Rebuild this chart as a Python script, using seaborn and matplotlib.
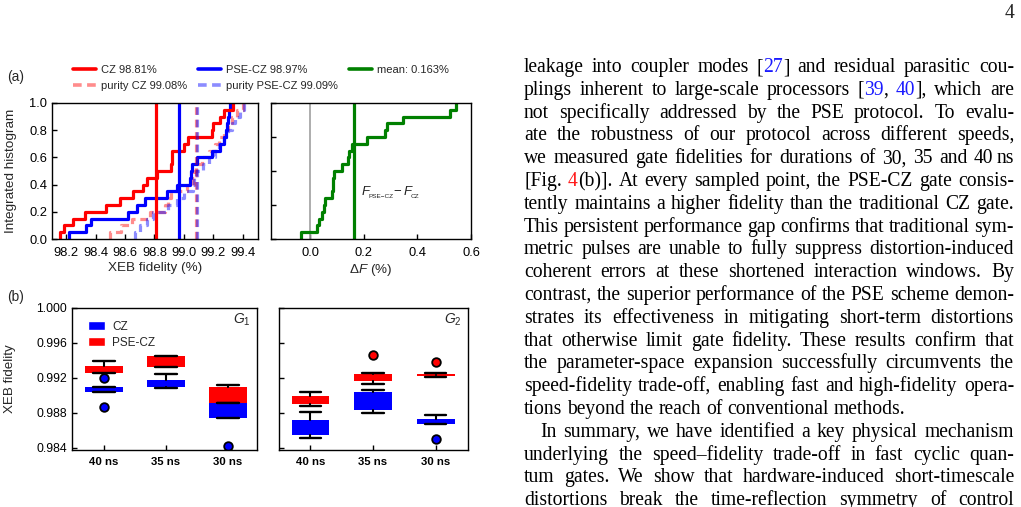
import re
import matplotlib
matplotlib.use('Agg')
import matplotlib.pyplot as plt
import seaborn as sns
from matplotlib.lines import Line2D
from matplotlib.patches import Patch

# ---- panel (a): XEB fidelities (%)
cz_xeb = [98.159, 98.182, 98.245, 98.329, 98.472, 98.567, 98.657, 98.725, 98.748, 98.816,
          98.911, 98.918, 98.922, 99.001, 99.031, 99.194, 99.200, 99.246, 99.273, 99.337]
pse_xeb = [98.216, 98.336, 98.368, 98.623, 98.680, 98.737, 98.884, 98.952, 99.042, 99.050,
           99.055, 99.092, 99.189, 99.246, 99.273, 99.287, 99.291, 99.298, 99.305, 99.314]
purity_cz = [98.50, 98.57, 98.65, 98.77, 98.87, 98.89, 98.91, 99.02, 99.06, 99.07,
             99.08, 99.12, 99.17, 99.21, 99.24, 99.27, 99.30, 99.33, 99.36, 99.40]
purity_pse = [98.67, 98.70, 98.75, 98.79, 98.89, 98.95, 99.00, 99.06, 99.07, 99.08,
              99.13, 99.17, 99.21, 99.24, 99.27, 99.30, 99.33, 99.35, 99.38, 99.41]
delta_f = [-0.035, 0.024, 0.033, 0.043, 0.051, 0.055, 0.080, 0.083, 0.086, 0.088,
           0.117, 0.141, 0.145, 0.157, 0.211, 0.279, 0.286, 0.345, 0.522, 0.543]
mean_cz = 98.81
mean_pse = 98.97
mean_purity_cz = 99.08
mean_purity_pse = 99.09
mean_delta = 0.163

# ---- panel (b): box statistics per gate duration
durations = ['40 ns', '35 ns', '30 ns']
g1_cz_q1 = [0.99035, 0.99090, 0.98737]
g1_cz_q3 = [0.99098, 0.99177, 0.98912]
g1_cz_lo = [0.99035, 0.99083, 0.98737]
g1_cz_hi = [0.99100, 0.99238, 0.98912]
g1_cz_out = [[0.99200, 0.98862], [], [0.98418]]
g1_pse_q1 = [0.99260, 0.99329, 0.98912]
g1_pse_q3 = [0.99337, 0.99454, 0.99098]
g1_pse_lo = [0.99253, 0.99322, 0.98912]
g1_pse_hi = [0.99397, 0.99450, 0.99120]
g1_pse_out = [[], [], []]
g2_cz_q1 = [0.98543, 0.98836, 0.98668]
g2_cz_q3 = [0.98711, 0.99041, 0.98733]
g2_cz_lo = [0.98509, 0.98798, 0.98668]
g2_cz_hi = [0.98810, 0.99063, 0.98779]
g2_cz_out = [[], [], [0.98502]]
g2_pse_q1 = [0.98896, 0.99166, 0.99226]
g2_pse_q3 = [0.98995, 0.99246, 0.99249]
g2_pse_lo = [0.98873, 0.99128, 0.99208]
g2_pse_hi = [0.99037, 0.99253, 0.99253]
g2_pse_out = [[], [0.99460], [0.99382]]

# ---- body text next to the figure
body_lines = [
    "leakage into coupler modes [{b:27}] and residual parasitic cou-",
    "plings inherent to large-scale processors [{b:39}, {b:40}], which are",
    "not specifically addressed by the PSE protocol.  To evalu-",
    "ate the robustness of our protocol across different speeds,",
    "we measured gate fidelities for durations of 30, 35 and 40~ns",
    "[Fig. {r:4}(b)].  At every sampled point, the PSE-CZ gate consis-",
    "tently maintains a higher fidelity than the traditional CZ gate.",
    "This persistent performance gap confirms that traditional sym-",
    "metric pulses are unable to fully suppress distortion-induced",
    "coherent errors at these shortened interaction windows.  By",
    "contrast, the superior performance of the PSE scheme demon-",
    "strates its effectiveness in mitigating short-term distortions",
    "that otherwise limit gate fidelity.  These results confirm that",
    "the parameter-space expansion successfully circumvents the",
    "speed-fidelity trade-off, enabling fast and high-fidelity opera-",
    "tions beyond the reach of conventional methods.",
    "In summary, we have identified a key physical mechanism",
    "underlying the speed\u2013fidelity trade-off in fast cyclic quan-",
    "tum gates.  We show that hardware-induced short-timescale",
    "distortions break the time-reflection symmetry of control",
]
last_in_paragraph = [15]
indented = [16]

RED = '#ff0000'
BLUE = '#0000ff'
GREEN = '#008000'

sns.set_theme(style='ticks')
plt.rcParams['font.family'] = ['Liberation Sans', 'DejaVu Sans']
plt.rcParams['mathtext.fontset'] = 'custom'
plt.rcParams['mathtext.rm'] = 'Liberation Sans'
plt.rcParams['mathtext.it'] = 'Liberation Sans:italic'
plt.rcParams['axes.edgecolor'] = 'black'
plt.rcParams['axes.linewidth'] = 1.0
plt.rcParams['xtick.direction'] = 'in'
plt.rcParams['ytick.direction'] = 'in'
plt.rcParams['xtick.color'] = 'black'
plt.rcParams['ytick.color'] = 'black'
plt.rcParams['xtick.major.size'] = 3.5
plt.rcParams['ytick.major.size'] = 3.5

W, H = 1021, 507
fig = plt.figure(figsize=(W / 100, H / 100), dpi=100)


def px_axes(x0, y0, x1, y1):
    return fig.add_axes([x0 / W, 1 - y1 / H, (x1 - x0) / W, (y1 - y0) / H])


def style_ticks(ax, size=9.3):
    ax.tick_params(axis='x', labelsize=size, pad=6, width=1)
    ax.tick_params(axis='y', labelsize=size, pad=3.5, width=1)


dash = (0, (2.4, 1.5))
LW = 2.3

# ---- (a) left: integrated histograms
ax1 = px_axes(52, 103, 258, 239)
sns.ecdfplot(x=purity_cz, ax=ax1, color=RED, alpha=0.45, lw=LW, ls=dash)
sns.ecdfplot(x=purity_pse, ax=ax1, color=BLUE, alpha=0.45, lw=LW, ls=dash)
sns.ecdfplot(x=pse_xeb, ax=ax1, color=BLUE, lw=LW)
sns.ecdfplot(x=cz_xeb, ax=ax1, color=RED, lw=LW)
ax1.axvline(mean_cz, color=RED, lw=LW)
ax1.axvline(mean_pse, color=BLUE, lw=LW)
ax1.axvline(mean_purity_cz, color=RED, alpha=0.45, lw=LW, ls=dash)
ax1.axvline(mean_purity_pse, color=BLUE, alpha=0.45, lw=LW, ls=dash)
ax1.set_xlim(98.103, 99.504)
ax1.set_ylim(0, 1)
ax1.set_xticks([98.2, 98.4, 98.6, 98.8, 99.0, 99.2, 99.4])
ax1.set_yticks([0, 0.2, 0.4, 0.6, 0.8, 1.0])
ax1.set_xticklabels(['98.2', '98.4', '98.6', '98.8', '99.0', '99.2', '99.4'])
ax1.set_yticklabels(['0.0', '0.2', '0.4', '0.6', '0.8', '1.0'])
style_ticks(ax1)
ax1.set_xlabel('XEB fidelity (%)', fontsize=9.7, va='top')
ax1.set_ylabel('Integrated histogram', fontsize=9.7)
ax1.xaxis.set_label_coords(0.5, -0.17)
ax1.yaxis.set_label_coords(-0.17, 0.5)

# ---- (a) right: fidelity difference
ax2 = px_axes(271, 103, 471, 239)
ax2.axvline(0, color='#a0a0a0', lw=1.2)
sns.ecdfplot(x=delta_f, ax=ax2, color=GREEN, lw=LW)
ax2.axvline(mean_delta, color=GREEN, lw=LW)
ax2.set_xlim(-0.147, 0.6)
ax2.set_ylim(0, 1)
ax2.set_xticks([0.0, 0.2, 0.4, 0.6])
ax2.set_xticklabels(['0.0', '0.2', '0.4', '0.6'])
ax2.set_yticks([0, 0.25, 0.5, 0.75, 1.0])
ax2.set_yticklabels([])
style_ticks(ax2)
ax2.set_ylabel('')
ax2.set_xlabel(r'$\Delta F$ (%)', fontsize=9.7, va='top')
ax2.xaxis.set_label_coords(0.5, -0.17)
# F_{PSE-CZ} - F_{CZ} with the tiny subscripts of the original
for txt, dx, dy, size, st in [('F', 0, 0, 9.5, 'italic'), ('PSE\u2212CZ', 7, -3, 4.6, 'normal'),
                              ('\u2212', 32, 0, 9.5, 'normal'), ('F', 42, 0, 9.5, 'italic'),
                              ('CZ', 49, -3, 4.6, 'normal')]:
    ax2.annotate(txt, xy=(0.19, 0.32), xytext=(dx, dy), textcoords='offset pixels',
                 fontsize=size, style=st, va='baseline', color='#222222')

handles = [
    Line2D([], [], color=RED, lw=2.6),
    Line2D([], [], color=RED, alpha=0.45, lw=2.6, ls=dash),
    Line2D([], [], color=BLUE, lw=2.6),
    Line2D([], [], color=BLUE, alpha=0.45, lw=2.6, ls=dash),
    Line2D([], [], color=GREEN, lw=2.6),
]
labels = [f'CZ {mean_cz:.2f}%', f'purity CZ {mean_purity_cz:.2f}%',
          f'PSE-CZ {mean_pse:.2f}%', f'purity PSE-CZ {mean_purity_pse:.2f}%',
          f'mean: {mean_delta:.3f}%']
fig.legend(handles, labels, loc='upper left', bbox_to_anchor=(73 / W, 1 - 65 / H), ncol=3,
           frameon=False, fontsize=8, handlelength=2.1, handletextpad=0.45,
           columnspacing=0.95, labelspacing=0.52, borderpad=0, borderaxespad=0)


# ---- (b) box plots
def draw_boxes(ax, q1, q3, lo, hi, out, color):
    stats = [dict(q1=a, q3=b, whislo=c, whishi=d, fliers=e, med=(a + b) / 2)
             for a, b, c, d, e in zip(q1, q3, lo, hi, out)]
    ax.bxp(stats, positions=list(range(len(stats))), widths=0.6, capwidths=0.34,
           patch_artist=True, manage_ticks=False,
           boxprops=dict(facecolor=color, edgecolor=color, linewidth=0),
           whiskerprops=dict(color='black', lw=1.5),
           capprops=dict(color='black', lw=1.7),
           medianprops=dict(linestyle='none'),
           flierprops=dict(marker='o', markerfacecolor=color, markeredgecolor='black',
                           markersize=6.2, markeredgewidth=1.3))


ax3 = px_axes(72, 308, 257, 450)
ax4 = px_axes(279, 308, 468, 450)
draw_boxes(ax3, g1_pse_q1, g1_pse_q3, g1_pse_lo, g1_pse_hi, g1_pse_out, RED)
draw_boxes(ax3, g1_cz_q1, g1_cz_q3, g1_cz_lo, g1_cz_hi, g1_cz_out, BLUE)
draw_boxes(ax4, g2_pse_q1, g2_pse_q3, g2_pse_lo, g2_pse_hi, g2_pse_out, RED)
draw_boxes(ax4, g2_cz_q1, g2_cz_q3, g2_cz_lo, g2_cz_hi, g2_cz_out, BLUE)

for ax, name, xl in [(ax3, r'$G_1$', (-0.516, 2.468)), (ax4, r'$G_2$', (-0.5, 2.515))]:
    ax.set_xlim(*xl)
    ax.set_ylim(0.98372, 1.0)
    ax.set_xticks(range(len(durations)))
    ax.set_xticklabels(durations, fontweight='bold')
    ax.set_yticks([0.984, 0.988, 0.992, 0.996, 1.000])
    style_ticks(ax, 8.8)
    ax.tick_params(axis='x', labelsize=8.2, pad=5)
    ax.text(0.965, 0.92, name, transform=ax.transAxes, ha='right', va='center', fontsize=10)
ax3.set_yticklabels(['0.984', '0.988', '0.992', '0.996', '1.000'])
ax4.set_yticklabels([])
ax3.set_ylabel('XEB fidelity', fontsize=9.6)
ax3.yaxis.set_label_coords(-0.3, 0.5)
ax3.legend([Patch(facecolor=BLUE), Patch(facecolor=RED)], ['CZ', 'PSE-CZ'],
           loc='upper left', bbox_to_anchor=(0.085, 0.91), frameon=False, fontsize=8.5,
           handlelength=1.5, handleheight=0.75, handletextpad=0.55, labelspacing=0.35,
           borderpad=0, borderaxespad=0)

fig.text(7 / W, 1 - 77 / H, '(a)', fontsize=9.8, va='center')
fig.text(7 / W, 1 - 297 / H, '(b)', fontsize=9.8, va='center')

# ---- body text column (justified by hand)
serif = ['Liberation Serif', 'DejaVu Serif']
FS = 14.1
fig.text(1014 / W, 1 - 14 / H, '4', fontsize=FS, family=serif, ha='right', va='center')

fig.canvas.draw()
renderer = fig.canvas.get_renderer()
colors = {'b': '#1a1aff', 'r': '#ff1a1a'}


def make_word(word):
    parts = []
    for m in re.finditer(r'\{(\w):([^}]*)\}|([^{]+)', word):
        if m.group(3) is not None:
            for k, chunk in enumerate(m.group(3).split('~')):
                if k:
                    parts.append(None)
                if chunk:
                    parts.append((chunk, 'black'))
        else:
            parts.append((m.group(2), colors[m.group(1)]))
    items = []
    for p in parts:
        if p is None:
            items.append((None, 3.0))
            continue
        t = fig.text(0, 0, p[0], fontsize=FS, family=serif, color=p[1], va='baseline')
        items.append((t, t.get_window_extent(renderer).width))
    return items


probe = fig.text(0, 0, 'x', fontsize=FS, family=serif)
probe2 = fig.text(0, 0, 'x x', fontsize=FS, family=serif)
space_w = probe2.get_window_extent(renderer).width - 2 * probe.get_window_extent(renderer).width
probe.remove()
probe2.remove()

x_left, x_right = 524, 1014
for i, line in enumerate(body_lines):
    base = 72 + i * 22.8
    words = [make_word(w) for w in line.split()]
    widths = [sum(w for _, w in wd) for wd in words]
    x0 = x_left + (16 if i in indented else 0)
    if i in last_in_paragraph or len(words) < 2:
        gap = space_w
    else:
        gap = (x_right - x0 - sum(widths)) / (len(words) - 1)
    x = x0
    for wd, ww in zip(words, widths):
        xx = x
        for t, w in wd:
            if t is not None:
                t.set_position((xx / W, 1 - base / H))
            xx += w
        x += ww + gap

fig.savefig('out.png', dpi=100)
